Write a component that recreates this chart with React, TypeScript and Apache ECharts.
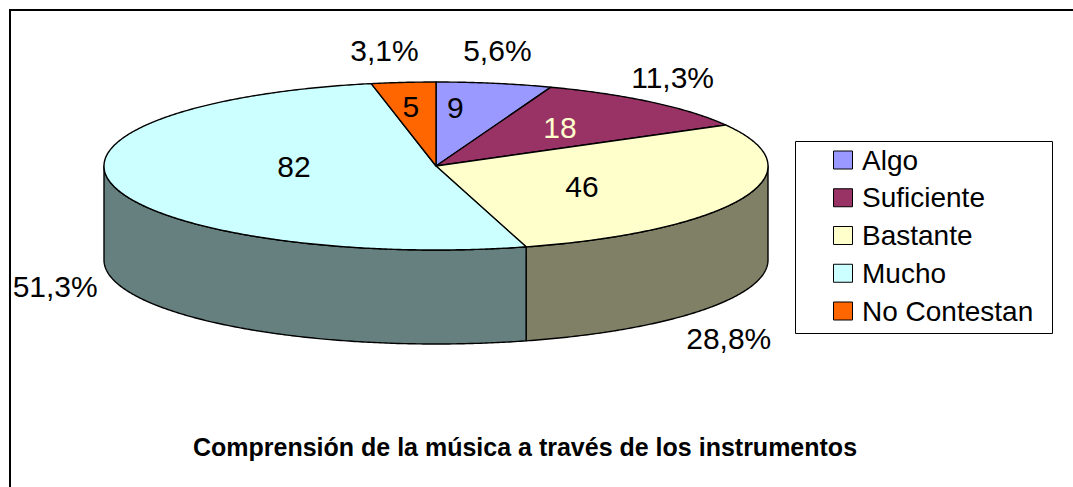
import React, { useEffect, useRef } from "react";
import * as echarts from "echarts";

// ---- data ----
const categories = ["Algo", "Suficiente", "Bastante", "Mucho", "No Contestan"];
const counts = [9, 18, 46, 82, 5];
const titleText = "Comprensión de la música a través de los instrumentos";

// ---- styles ----
const topColors = ["#9999FF", "#993366", "#FFFFCC", "#CCFFFF", "#FF6600"];
const sideColors = ["#4D4D80", "#4D1A33", "#808066", "#668080", "#803300"];
const valueLabelColors = ["#000000", "#FFFFCC", "#000000", "#000000", "#000000"];
const FONT = '"Liberation Sans", Arial, sans-serif';

// ---- layout ----
const CX = 436;
const CY = 166;
const RX = 332;
const RY = 84;
const DEPTH = 94;
// inside value label placement (fraction of radius along the slice mid-angle, x / y)
const insideFactor: [number, number][] = [
  [0.33, 0.71],
  [0.575, 0.61],
  [0.476, 0.65],
  [0.44, 0.0],
  [0.77, 0.71],
];
// outside percent label nudges from the rim anchor (px)
const outsideNudge: [number, number][] = [
  [3, -33],
  [21, -25],
  [-14, 46],
  [-58, 7],
  [-19, -32],
];

export default function App() {
  const ref = useRef<HTMLDivElement>(null);

  useEffect(() => {
    const chart = echarts.init(ref.current!, null, { renderer: "svg" });
    const total = counts.reduce((a, b) => a + b, 0);
    const starts: number[] = [];
    let acc = 0;
    counts.forEach((v) => {
      starts.push(acc);
      acc += v;
    });
    const deg = (v: number) => (v / total) * 360;
    const pt = (tDeg: number, dy = 0): [number, number] => {
      const t = (tDeg * Math.PI) / 180;
      return [CX + RX * Math.sin(t), CY - RY * Math.cos(t) + dy];
    };
    const arc = (a: number, b: number, dy = 0) => {
      const pts: [number, number][] = [];
      const n = Math.max(2, Math.ceil((b - a) / 0.5));
      for (let k = 0; k <= n; k++) pts.push(pt(a + ((b - a) * k) / n, dy));
      return pts;
    };
    const pctText = (v: number) =>
      (Math.round((v * 1000) / total) / 10).toFixed(1).replace(".", ",") + "%";

    const renderItem = (params: any, api: any) => {
      const i = params.dataIndex;
      const v = api.value(0) as number;
      const a = deg(starts[i]);
      const b = a + deg(v);
      const children: any[] = [];
      const sa = Math.max(a, 90);
      const sb = Math.min(b, 270);
      if (sb > sa) {
        const top = arc(sa, sb);
        const bot = arc(sa, sb, DEPTH).reverse();
        children.push({
          type: "polygon",
          shape: { points: [...top, ...bot] },
          style: { fill: sideColors[i], stroke: "#000", lineWidth: 1.4, lineJoin: "round" },
        });
      }
      children.push({
        type: "polygon",
        shape: { points: [[CX, CY], ...arc(a, b)] },
        style: { fill: topColors[i], stroke: "#000", lineWidth: 1.4, lineJoin: "round" },
      });
      const mid = (a + b) / 2;
      const mr = (mid * Math.PI) / 180;
      const [fx, fy] = insideFactor[i];
      children.push({
        type: "text",
        x: CX + RX * fx * Math.sin(mr),
        y: CY - RY * fy * Math.cos(mr),
        style: {
          text: String(v),
          fill: valueLabelColors[i],
          fontSize: 30,
          fontFamily: FONT,
          align: "center",
          verticalAlign: "middle",
          textAlign: "center",
          textVerticalAlign: "middle",
        },
      });
      const anchor = Math.cos(mr) >= 0 ? pt(mid) : pt(mid, DEPTH);
      const [nx, ny] = outsideNudge[i];
      children.push({
        type: "text",
        x: anchor[0] + nx,
        y: anchor[1] + ny,
        style: {
          text: pctText(v),
          fill: "#000",
          fontSize: 30,
          fontFamily: FONT,
          align: "center",
          verticalAlign: "middle",
          textAlign: "center",
          textVerticalAlign: "middle",
        },
      });
      return { type: "group", children };
    };

    const legendItems: any[] = [
      {
        type: "rect",
        shape: { x: 795.5, y: 141.5, width: 257, height: 192 },
        style: { fill: "#fff", stroke: "#000", lineWidth: 1 },
      },
    ];
    categories.forEach((c, i) => {
      const ry = 160 + i * 37.75;
      legendItems.push({
        type: "rect",
        shape: { x: 833.5, y: ry - 9, width: 19, height: 18 },
        style: { fill: topColors[i], stroke: "#000", lineWidth: 1 },
      });
      legendItems.push({
        type: "text",
        x: 862,
        y: ry,
        style: {
          text: c,
          fill: "#000",
          fontSize: 28,
          fontFamily: FONT,
          align: "left",
          verticalAlign: "middle",
          textAlign: "left",
          textVerticalAlign: "middle",
        },
      });
    });

    chart.setOption({
      animation: false,
      backgroundColor: "#ffffff",
      graphic: [
        {
          type: "rect",
          shape: { x: 10, y: 10, width: 1300, height: 700 },
          style: { fill: "none", stroke: "#000", lineWidth: 2 },
        },
        ...legendItems,
        {
          type: "text",
          x: 525,
          y: 447,
          style: {
            text: titleText,
            fill: "#000",
            fontSize: 25,
            fontWeight: "bold",
            fontFamily: FONT,
            align: "center",
            verticalAlign: "middle",
            textAlign: "center",
            textVerticalAlign: "middle",
          },
        },
      ],
      series: [
        {
          type: "custom",
          coordinateSystem: "none",
          silent: true,
          data: counts.map((v, i) => ({ name: categories[i], value: v })),
          renderItem,
        },
      ],
    });
    return () => chart.dispose();
  }, []);

  return (
    <div
      ref={ref}
      style={{ position: "fixed", left: 0, top: 0, width: 1073, height: 487, background: "#fff" }}
    />
  );
}
